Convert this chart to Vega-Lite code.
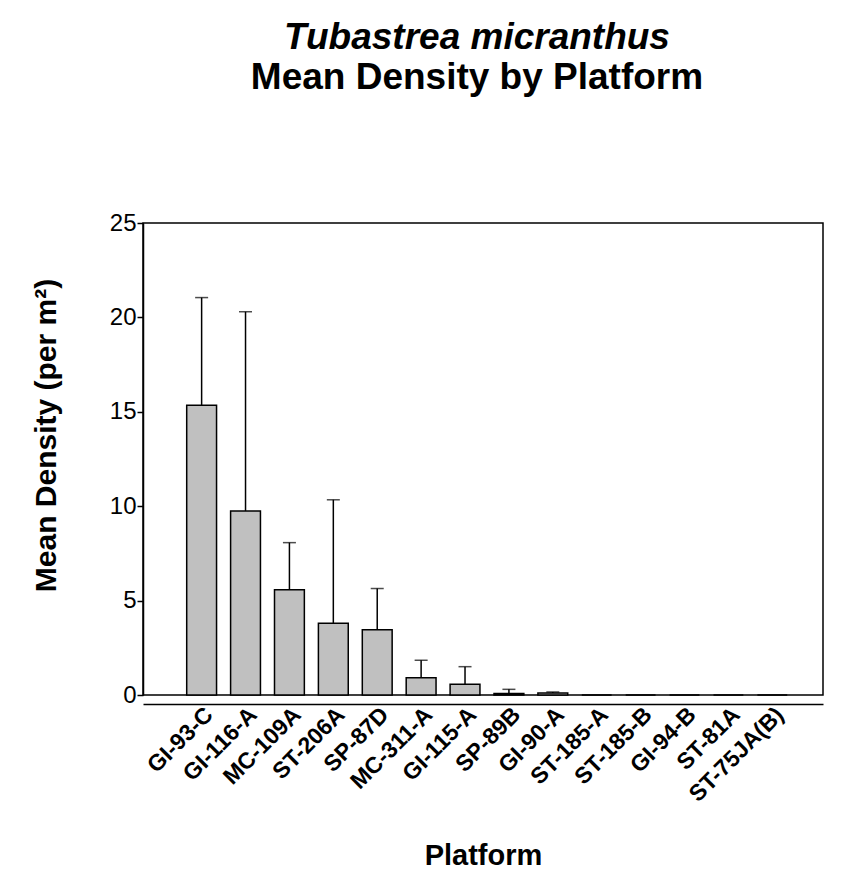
{
  "$schema": "https://vega.github.io/schema/vega-lite/v6.json",
  "autosize": "none",
  "width": 680,
  "height": 472,
  "padding": {"left": 143, "top": 223, "right": 22, "bottom": 180},
  "background": "white",
  "title": {
    "text": "Tubastrea micranthus",
    "subtitle": "Mean Density by Platform",
    "anchor": "middle",
    "dx": -6,
    "offset": 114,
    "font": "Liberation Sans",
    "fontSize": 37,
    "fontWeight": "bold",
    "fontStyle": "italic",
    "color": "black",
    "subtitleFont": "Liberation Sans",
    "subtitleFontSize": 37,
    "subtitleFontWeight": "bold",
    "subtitleFontStyle": "normal",
    "subtitleColor": "black",
    "subtitlePadding": 3
  },
  "data": {
    "values": [
      {"platform": "GI-93-C", "mean": 15.35, "upper": 21.05},
      {"platform": "GI-116-A", "mean": 9.75, "upper": 20.3},
      {"platform": "MC-109A", "mean": 5.57, "upper": 8.07},
      {"platform": "ST-206A", "mean": 3.8, "upper": 10.34},
      {"platform": "SP-87D", "mean": 3.46, "upper": 5.64},
      {"platform": "MC-311-A", "mean": 0.91, "upper": 1.84},
      {"platform": "GI-115-A", "mean": 0.57, "upper": 1.5},
      {"platform": "SP-89B", "mean": 0.08, "upper": 0.3},
      {"platform": "GI-90-A", "mean": 0.1, "upper": 0.16},
      {"platform": "ST-185-A", "mean": 0, "upper": 0},
      {"platform": "ST-185-B", "mean": 0, "upper": 0},
      {"platform": "GI-94-B", "mean": 0, "upper": 0},
      {"platform": "ST-81A", "mean": 0, "upper": 0},
      {"platform": "ST-75JA(B)", "mean": 0, "upper": 0}
    ]
  },
  "encoding": {
    "x": {
      "field": "platform",
      "type": "nominal",
      "sort": null,
      "scale": {"paddingInner": 0.32, "paddingOuter": 0.905, "align": 0.55},
      "axis": {
        "title": "Platform",
        "titleFont": "Liberation Sans",
        "titleFontSize": 29,
        "titleFontWeight": "bold",
        "titleColor": "black",
        "titleY": 160,
        "titleBaseline": "alphabetic",
        "offset": 9,
        "domainColor": "black",
        "domainWidth": 1.5,
        "ticks": false,
        "labelAngle": -45,
        "labelFont": "Liberation Sans",
        "labelFontSize": 23,
        "labelFontWeight": "bold",
        "labelColor": "black",
        "labelPadding": -1,
        "labelDx": 5
      }
    }
  },
  "layer": [
    {
      "mark": {"type": "bar", "fill": "#c0c0c0", "stroke": "black", "strokeWidth": 1.5},
      "encoding": {
        "y": {
          "field": "mean",
          "type": "quantitative",
          "scale": {"domain": [0, 25], "nice": false},
          "axis": {
            "title": "Mean Density (per m²)",
            "titleFont": "Liberation Sans",
            "titleFontSize": 30,
            "titleFontWeight": "bold",
            "titleColor": "black",
            "titleX": -88,
            "titleY": 212,
            "titleBaseline": "alphabetic",
            "values": [0, 5, 10, 15, 20, 25],
            "grid": false,
            "domainColor": "black",
            "domainWidth": 1.5,
            "tickColor": "black",
            "tickWidth": 1.5,
            "tickSize": 6,
            "labelFont": "Liberation Sans",
            "labelFontSize": 24,
            "labelColor": "black",
            "labelPadding": 1
          }
        }
      }
    },
    {
      "transform": [{"filter": "datum.upper > datum.mean"}],
      "mark": {"type": "rule", "color": "black", "strokeWidth": 1.5},
      "encoding": {
        "y": {"field": "mean", "type": "quantitative"},
        "y2": {"field": "upper"}
      }
    },
    {
      "transform": [{"filter": "datum.upper > datum.mean"}],
      "mark": {"type": "tick", "color": "black", "size": 13, "thickness": 1.5},
      "encoding": {
        "y": {"field": "upper", "type": "quantitative"}
      }
    }
  ],
  "config": {
    "view": {"stroke": "black", "strokeWidth": 1.5},
    "tick": {"bandSize": 13}
  }
}
